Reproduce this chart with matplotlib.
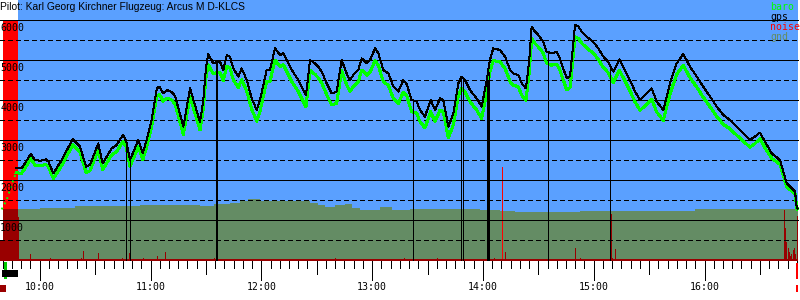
import numpy as np
import matplotlib
matplotlib.use('Agg')
import matplotlib.pyplot as plt

# flight info
title = 'Pilot: Karl Georg Kirchner Flugzeug: Arcus M D-KLCS'

# time in minutes since midnight, altitudes in m
gps_t = [587.2, 590.2, 592.0, 595.1, 597.5, 600.2, 603.4, 604.7, 607.4, 611.9,
         617.9, 621.8, 625.1, 627.2, 631.7, 634.1, 639.0, 641.7, 645.0, 646.7,
         648.9, 653.4, 655.8, 657.9, 660.6, 663.4, 664.8, 666.9, 668.8, 671.5,
         673.3, 677.8, 681.4, 686.8, 688.6, 690.0, 691.3, 694.0, 695.8, 697.6,
         699.4, 701.3, 703.0, 704.8, 707.5, 709.4, 712.1, 714.8, 717.5, 719.3,
         722.9, 724.7, 727.4, 730.1, 731.9, 733.8, 736.5, 740.0, 742.7, 744.2,
         746.4, 749.1, 750.9, 752.7, 755.4, 758.1, 760.8, 763.5, 766.2, 768.0,
         769.8, 772.5, 774.4, 777.1, 778.9, 781.6, 783.4, 786.1, 788.8, 791.5,
         794.2, 796.9, 798.7, 801.4, 804.1, 805.9, 808.6, 811.7, 814.1, 816.8,
         818.5, 821.3, 824.0, 826.7, 828.5, 830.3, 833.0, 836.6, 839.3, 841.7,
         843.8, 845.6, 849.3, 852.0, 854.7, 856.5, 859.2, 861.0, 863.3, 865.1,
         866.4, 868.2, 870.0, 872.7, 874.5, 877.2, 880.0, 881.7, 883.5, 885.4,
         887.2, 889.9, 891.7, 893.5, 896.2, 899.8, 902.5, 905.2, 907.9, 910.6,
         913.9, 916.9, 919.6, 922.4, 925.1, 928.7, 931.4, 934.1, 937.7, 941.3,
         944.9, 948.5, 952.1, 955.8, 959.3, 963.0, 966.6, 970.2, 973.8, 977.4,
         981.0, 984.6, 987.3, 990.0, 992.7, 996.4, 1000.9, 1004.5, 1009.0, 1009.9,
         1010.3]
gps_alt = [2290, 2290, 2415, 2650, 2500, 2480, 2515, 2460, 2165, 2500,
           3025, 2835, 2335, 2375, 2915, 2415, 2790, 2875, 3125, 3000,
           2500, 3000, 2665, 3000, 3500, 4290, 4335, 4165, 4250, 4200,
           4100, 3335, 4290, 3450, 4000, 4800, 5150, 4915, 4950, 4960,
           4750, 5125, 5080, 4790, 4585, 4790, 4500, 4040, 3750, 4000,
           4750, 4750, 5290, 5125, 5165, 5000, 4750, 4500, 4250, 4125,
           5000, 4915, 4830, 4710, 4415, 4165, 4210, 5000, 4665, 4500,
           4625, 4750, 5040, 4915, 5000, 5290, 5165, 4750, 4665, 4335,
           4210, 4500, 4400, 4000, 3960, 3750, 3585, 4000, 3750, 4040,
           4000, 3335, 3665, 4415, 4585, 4500, 4250, 4040, 3835, 4400,
           5000, 5290, 5250, 5085, 4750, 4665, 4625, 4415, 4290, 5000,
           5835, 5710, 5625, 5460, 5210, 5165, 5200, 5040, 4790, 4540,
           4600, 5875, 5835, 5710, 5585, 5450, 5290, 5085, 4950, 4710,
           5015, 4750, 4500, 4210, 4000, 4165, 4290, 3960, 3750, 4415,
           4915, 5150, 4835, 4585, 4335, 4085, 3835, 3625, 3500, 3335,
           3165, 3000, 3085, 3185, 2960, 2665, 2500, 1915, 1710, 1335,
           1290]
baro_alt = [2180, 2170, 2290, 2530, 2370, 2350, 2390, 2330, 2040, 2360,
            2880, 2690, 2190, 2230, 2760, 2260, 2630, 2710, 2960, 2840,
            2340, 2830, 2500, 2830, 3320, 4100, 4140, 3970, 4050, 4000,
            3900, 3140, 4080, 3250, 3780, 4560, 4880, 4650, 4680, 4690,
            4480, 4850, 4800, 4510, 4310, 4510, 4220, 3770, 3470, 3720,
            4470, 4470, 5000, 4840, 4880, 4710, 4460, 4210, 3960, 3830,
            4740, 4640, 4550, 4430, 4130, 3880, 3920, 4730, 4380, 4210,
            4340, 4460, 4750, 4620, 4700, 4980, 4860, 4450, 4370, 4040,
            3910, 4200, 4110, 3710, 3670, 3460, 3300, 3710, 3460, 3750,
            3710, 3050, 3380, 4120, 4290, 4200, 3960, 3750, 3540, 4110,
            4700, 4990, 4950, 4790, 4460, 4370, 4330, 4120, 3990, 4700,
            5530, 5410, 5330, 5170, 4920, 4870, 4900, 4750, 4500, 4250,
            4310, 5580, 5540, 5420, 5300, 5170, 5010, 4810, 4680, 4440,
            4740, 4480, 4230, 3950, 3740, 3900, 4020, 3700, 3490, 4150,
            4640, 4870, 4560, 4320, 4070, 3830, 3590, 3390, 3280, 3120,
            2970, 2820, 2910, 3030, 2810, 2540, 2390, 1830, 1650, 1320,
            1275]

# baro during the tow (sparse samples)
climb_t = [579.4, 582.1, 583.9, 585.7, 587.2]
climb_alt = [1265, 1500, 1750, 2000, 2180]

# gps dropouts (logged as 0 m)
drop_t = [646.9, 649.0, 695.5, 696.0, 802.3, 828.0, 829.1,
          842.4, 842.9, 843.5, 875.0, 875.5, 908.8]
drop_top = [3000, 2500, 4950, 4950, 4000, 4500, 4550,
            4450, 4500, 4700, 5200, 5180, 4800]

# ground elevation under the track
gnd_t = [588.2, 600.2, 619.1, 654.3, 686.8, 694.4, 703.0, 708.5, 712.8, 719.3,
         743.7, 746.4, 750.7, 754.5, 759.9, 765.3, 769.1, 773.4, 784.3, 790.8,
         800.5, 838.4, 849.3, 857.4, 865.5, 870.9, 892.6, 930.5, 954.8, 1010.45]
gnd_alt = [1275, 1300, 1350, 1375, 1350, 1390, 1435, 1465, 1515, 1480,
           1465, 1415, 1375, 1325, 1375, 1400, 1290, 1250, 1325, 1250,
           1265, 1250, 1225, 1190, 1190, 1210, 1225, 1230, 1275, 1275]

# engine noise level (scaled to the altitude axis)
noise_t = [594.7, 605.6, 622.4, 623.4, 631.7, 644.7, 648.4, 656.1, 663.7, 668.0,
           694.5, 759.9, 797.4, 806.8, 815.3, 845.8, 846.2, 850.5, 851.8, 890.0,
           892.4, 909.5, 910.1, 911.7, 1003.2, 1003.7, 1004.3, 1005.0, 1005.7, 1006.3,
           1007.0, 1007.8, 1008.3, 1008.6, 1009.2, 1009.9, 1010.2]
noise_v = [150, 60, 40, 225, 175, 50, 165, 40, 100, 200,
           60, 60, 60, 30, 60, 60, 60, 2315, 200, 310,
           60, 1150, 60, 280, 1250, 790, 460, 300, 200, 100,
           150, 250, 290, 200, 150, 1110, 600]
tow_noise_t = [578.5, 580.1, 588.2, 588.8]
tow_noise_v = [500, 1275, 1075, 0]

# time window of the logged flight / engine run
flight_start, flight_end = 588.25, 1010.45
engine_start = 580.1

x_min, x_max = 578.5, 1011.7
hours = [10, 11, 12, 13, 14, 15, 16]

blue = '#5aa0ff'
gnd_col = '#648c64'
dark_red = '#990000'
px = 0.72  # one pixel in points

fig = plt.figure(figsize=(8, 3), dpi=100)
ax = fig.add_axes([0, 0, 1, 1])
ax.set_xlim(x_min, x_max)
ax.set_ylim(-1000, 6500)
ax.axis('off')

ax.fill_between([flight_start, flight_end], 0, 6500, color=blue, lw=0, zorder=1)
ax.fill_between([engine_start, flight_start], 0, 6000, color='#ff0000', lw=0, zorder=1)
ax.fill_between(gnd_t, 0, gnd_alt, step='post', color=gnd_col, lw=0, zorder=2)

# noise
ax.fill_between(tow_noise_t, 0, tow_noise_v, step='post', color=dark_red, lw=0, zorder=3)
noise_cols = ['#ff0000' if v > 2000 else dark_red for v in noise_v]
ax.vlines(noise_t, 0, noise_v, colors=noise_cols, lw=px, zorder=3, antialiased=False)

# grid
ax.hlines(range(1000, 6001, 1000), x_min, flight_end, colors='black', lw=px,
          zorder=4, antialiased=False)
ax.hlines(range(500, 5501, 1000), x_min, flight_end, colors='black', lw=px,
          linestyles=(0, (5, 3)), zorder=4, antialiased=False)
ax.hlines(-12, x_min, flight_end, colors=dark_red, lw=2 * px, zorder=5, antialiased=False)

# altitude traces
ax.plot(climb_t, climb_alt, color='#00ff00', lw=1.4, ls=(0, (1, 2)), zorder=6)
ax.plot(gps_t, baro_alt, color='#00ff00', lw=2 * px, zorder=6, antialiased=False)
ax.plot(gps_t, gps_alt, color='black', lw=px, zorder=7, antialiased=False)
ax.vlines(drop_t, 0, drop_top, colors='black', lw=px, zorder=7, antialiased=False)

# time ticks every 5 minutes
tick_t = np.arange(580, 1011, 5)
tick_len = [475 if t % 60 == 0 else 325 if t % 30 == 0 else 175 for t in tick_t]
ax.vlines(tick_t, [-30 - l for l in tick_len], -30, colors='black', lw=px,
          zorder=5, antialiased=False)
for h in hours:
    ax.text(h * 60, -750, f'{h}:00', family='DejaVu Sans Mono', fontsize=7.1,
            ha='center', va='baseline', zorder=9)

# start / end markers below the axis
ax.fill_between([580.7, 582.3], -475, -50, color='#00cc00', lw=0, zorder=6)
ax.fill_between([579.6, 588.2], -417, -250, color='black', lw=0, zorder=6)
ax.fill_between([578.5, 581.7], -792, -625, color=dark_red, lw=0, zorder=6)
ax.vlines(1010.2, -475, -75, colors='#ff0000', lw=2 * px, zorder=6, antialiased=False)
ax.vlines(1010.2, -792, -625, colors='#ff0000', lw=2 * px, zorder=6, antialiased=False)

# altitude labels
for v in range(1000, 6001, 1000):
    ax.text(x_min + 0.1, v - 265, str(v), family='DejaVu Sans Mono', fontsize=7.1,
            ha='left', va='baseline', zorder=9)

ax.text(0.0, 1 - 10.3 / 300, title, transform=ax.transAxes, family='Liberation Sans',
        fontsize=7.4, ha='left', va='baseline', zorder=9)

legend = [('baro', '#00ff00'), ('gps', 'black'), ('noise', '#ff0000'), ('gnd', gnd_col)]
for i, (name, col) in enumerate(legend):
    ax.text(770 / 800, 1 - (10.5 + 10 * i) / 300, name, transform=ax.transAxes,
            family='DejaVu Sans Mono', fontsize=7.1, color=col, ha='left',
            va='baseline', zorder=9)

fig.savefig('out.png', dpi=100)
